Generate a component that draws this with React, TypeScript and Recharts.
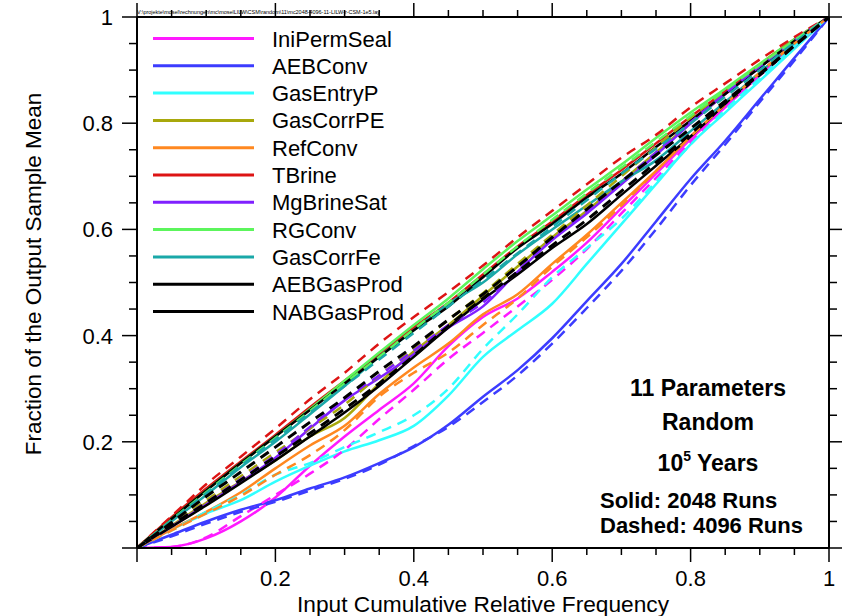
import React from 'react';
import { LineChart, Line, XAxis, YAxis } from 'recharts';

// ---- data ----
const xValues = [0, 0.05, 0.1, 0.15, 0.2, 0.25, 0.3, 0.35, 0.4, 0.45, 0.5, 0.55, 0.6, 0.65, 0.7, 0.75, 0.8, 0.85, 0.9, 0.95, 1];

const iniPermSealSolid = [0, 0.002, 0.018, 0.05, 0.095, 0.155, 0.21, 0.26, 0.31, 0.38, 0.435, 0.47, 0.52, 0.575, 0.64, 0.705, 0.77, 0.83, 0.89, 0.945, 1];
const iniPermSealDashed = [0, 0.002, 0.02, 0.06, 0.1, 0.14, 0.185, 0.243, 0.298, 0.356, 0.405, 0.455, 0.505, 0.563, 0.63, 0.697, 0.765, 0.83, 0.89, 0.945, 1];
const aebConvSolid = [0, 0.025, 0.05, 0.072, 0.09, 0.112, 0.133, 0.16, 0.19, 0.232, 0.285, 0.335, 0.395, 0.465, 0.535, 0.615, 0.695, 0.767, 0.845, 0.923, 1];
const aebConvDashed = [0, 0.022, 0.046, 0.068, 0.087, 0.108, 0.13, 0.157, 0.192, 0.228, 0.275, 0.325, 0.385, 0.452, 0.522, 0.6, 0.683, 0.76, 0.84, 0.918, 1];
const gasEntryPSolid = [0, 0.035, 0.065, 0.09, 0.125, 0.155, 0.182, 0.203, 0.23, 0.287, 0.36, 0.41, 0.46, 0.535, 0.61, 0.685, 0.76, 0.82, 0.88, 0.94, 1];
const gasEntryPDashed = [0, 0.033, 0.068, 0.1, 0.138, 0.16, 0.19, 0.218, 0.25, 0.3, 0.375, 0.44, 0.51, 0.565, 0.62, 0.69, 0.76, 0.825, 0.885, 0.945, 1];
const gasCorrPESolid = [0, 0.042, 0.085, 0.125, 0.165, 0.21, 0.245, 0.31, 0.37, 0.42, 0.475, 0.53, 0.585, 0.635, 0.69, 0.745, 0.8, 0.855, 0.905, 0.955, 1];
const gasCorrPEDashed = [0, 0.045, 0.09, 0.135, 0.18, 0.225, 0.27, 0.325, 0.375, 0.43, 0.48, 0.535, 0.59, 0.645, 0.7, 0.755, 0.81, 0.86, 0.91, 0.958, 1];
const refConvSolid = [0, 0.035, 0.068, 0.105, 0.15, 0.193, 0.23, 0.29, 0.34, 0.385, 0.44, 0.478, 0.535, 0.59, 0.65, 0.71, 0.775, 0.835, 0.895, 0.95, 1];
const refConvDashed = [0, 0.033, 0.065, 0.098, 0.138, 0.175, 0.222, 0.285, 0.33, 0.368, 0.42, 0.47, 0.53, 0.585, 0.645, 0.71, 0.775, 0.835, 0.895, 0.95, 1];
const tBrineSolid = [0, 0.058, 0.112, 0.163, 0.213, 0.265, 0.315, 0.365, 0.415, 0.462, 0.515, 0.568, 0.615, 0.665, 0.712, 0.762, 0.812, 0.86, 0.91, 0.958, 1];
const tBrineDashed = [0, 0.06, 0.12, 0.172, 0.225, 0.28, 0.33, 0.385, 0.435, 0.482, 0.532, 0.585, 0.635, 0.685, 0.735, 0.778, 0.83, 0.875, 0.92, 0.962, 1];
const mgBrineSatSolid = [0, 0.04, 0.082, 0.124, 0.17, 0.225, 0.278, 0.32, 0.365, 0.415, 0.455, 0.52, 0.58, 0.63, 0.685, 0.74, 0.8, 0.855, 0.905, 0.955, 1];
const mgBrineSatDashed = [0, 0.043, 0.086, 0.13, 0.175, 0.228, 0.28, 0.325, 0.372, 0.42, 0.462, 0.522, 0.582, 0.635, 0.69, 0.745, 0.802, 0.856, 0.907, 0.956, 1];
const rgConvSolid = [0, 0.055, 0.108, 0.16, 0.21, 0.262, 0.315, 0.368, 0.42, 0.47, 0.525, 0.578, 0.626, 0.675, 0.722, 0.772, 0.82, 0.865, 0.912, 0.958, 1];
const rgConvDashed = [0, 0.053, 0.105, 0.157, 0.207, 0.258, 0.31, 0.36, 0.412, 0.462, 0.515, 0.568, 0.618, 0.668, 0.716, 0.765, 0.814, 0.862, 0.91, 0.956, 1];
const gasCorrFeSolid = [0, 0.05, 0.1, 0.152, 0.2, 0.252, 0.305, 0.36, 0.41, 0.46, 0.5, 0.553, 0.6, 0.645, 0.69, 0.73, 0.785, 0.84, 0.895, 0.95, 1];
const gasCorrFeDashed = [0, 0.052, 0.103, 0.155, 0.205, 0.255, 0.305, 0.355, 0.405, 0.455, 0.505, 0.555, 0.605, 0.655, 0.705, 0.752, 0.8, 0.85, 0.9, 0.952, 1];
const aebGasProdSolid = [0, 0.055, 0.108, 0.16, 0.21, 0.26, 0.31, 0.36, 0.41, 0.455, 0.51, 0.565, 0.61, 0.66, 0.705, 0.755, 0.805, 0.855, 0.905, 0.955, 1];
const aebGasProdDashed = [0, 0.048, 0.097, 0.143, 0.19, 0.237, 0.283, 0.333, 0.38, 0.43, 0.478, 0.53, 0.585, 0.638, 0.69, 0.74, 0.79, 0.842, 0.893, 0.946, 1];
const nabGasProdSolid = [0, 0.04, 0.08, 0.122, 0.165, 0.21, 0.255, 0.305, 0.36, 0.415, 0.468, 0.515, 0.565, 0.61, 0.665, 0.72, 0.775, 0.835, 0.89, 0.945, 1];
const nabGasProdDashed = [0, 0.043, 0.085, 0.128, 0.172, 0.216, 0.262, 0.31, 0.362, 0.418, 0.47, 0.52, 0.57, 0.618, 0.672, 0.726, 0.78, 0.838, 0.892, 0.946, 1];

const seriesNames = ['IniPermSeal', 'AEBConv', 'GasEntryP', 'GasCorrPE', 'RefConv', 'TBrine', 'MgBrineSat', 'RGConv', 'GasCorrFe', 'AEBGasProd', 'NABGasProd'];
const seriesColors = ['#ff1aff', '#3c3cff', '#30ffff', '#a8a80c', '#ff8820', '#dd1414', '#8020ff', '#5cf55c', '#1aa8a8', '#000000', '#000000'];
const solidValues = [iniPermSealSolid, aebConvSolid, gasEntryPSolid, gasCorrPESolid, refConvSolid, tBrineSolid, mgBrineSatSolid, rgConvSolid, gasCorrFeSolid, aebGasProdSolid, nabGasProdSolid];
const dashedValues = [iniPermSealDashed, aebConvDashed, gasEntryPDashed, gasCorrPEDashed, refConvDashed, tBrineDashed, mgBrineSatDashed, rgConvDashed, gasCorrFeDashed, aebGasProdDashed, nabGasProdDashed];

const allTicks = [0, 0.05, 0.1, 0.15, 0.2, 0.25, 0.3, 0.35, 0.4, 0.45, 0.5, 0.55, 0.6, 0.65, 0.7, 0.75, 0.8, 0.85, 0.9, 0.95, 1];
const majorTicks = [0.2, 0.4, 0.6, 0.8, 1];
const majorTickLabels = ['0.2', '0.4', '0.6', '0.8', '1'];

const xTitle = 'Input Cumulative Relative Frequency';
const yTitle = 'Fraction of the Output Sample Mean';
const filePath = 'V:\\projekte\\mosel\\rechnungen\\mc\\moselLILW\\CSM\\random\\11\\mc2048-4096-11-LILW-r-CSM-1e5.lay';

const rows = xValues.map((x, i) => {
  const r: Record<string, number> = { x };
  seriesNames.forEach((n, k) => {
    r[n + '_s'] = solidValues[k][i];
    r[n + '_d'] = dashedValues[k][i];
  });
  return r;
});

const FONT = '"Liberation Sans", Arial, sans-serif';
const W = 842;
const H = 616;
const L = 137, R = 829, T = 17, B = 548;
const AX_B = 40, AX_T = 10, AX_L = 60, AX_R = 10;

const majorIndex = (v: number) => majorTicks.findIndex((m) => Math.abs(m - v) < 1e-6);
const isMajor = (v: number) => Math.abs(v * 5 - Math.round(v * 5)) < 1e-6;

const BottomTick = (p: any) => {
  const v = p.payload.value;
  const mj = isMajor(v);
  const idx = majorIndex(v);
  return (
    <g>
      <line x1={p.x} x2={p.x} y1={B} y2={B + (mj ? 14 : 7)} stroke="#000" strokeWidth={1.5} />
      {idx >= 0 && (
        <text x={p.x} y={B + 38} textAnchor="middle" fontSize={22} fontFamily={FONT} fill="#000">
          {majorTickLabels[idx]}
        </text>
      )}
    </g>
  );
};
const TopTick = (p: any) => {
  const v = p.payload.value;
  const mj = isMajor(v);
  return <line x1={p.x} x2={p.x} y1={T} y2={T - (mj ? 14 : 7)} stroke="#000" strokeWidth={1.5} />;
};
const LeftTick = (p: any) => {
  const v = p.payload.value;
  const mj = isMajor(v);
  const idx = majorIndex(v);
  return (
    <g>
      <line x1={L} x2={L - (mj ? 15 : 8)} y1={p.y} y2={p.y} stroke="#000" strokeWidth={1.5} />
      {idx >= 0 && (
        <text x={L - 24} y={p.y + 8} textAnchor="end" fontSize={22} fontFamily={FONT} fill="#000">
          {majorTickLabels[idx]}
        </text>
      )}
    </g>
  );
};
const RightTick = (p: any) => {
  const v = p.payload.value;
  const mj = isMajor(v);
  return <line x1={R} x2={R + (mj ? 15 : 8)} y1={p.y} y2={p.y} stroke="#000" strokeWidth={1.5} />;
};

const axisLine = { stroke: '#000', strokeWidth: 2 };

export default function App() {
  return (
    <div style={{ position: 'absolute', left: 0, top: 0, width: W, height: H, background: '#fff' }}>
      <LineChart width={W} height={H} data={rows}
        margin={{ top: T - AX_T, right: W - R - AX_R, bottom: H - B - AX_B, left: L - AX_L }}>
        <XAxis dataKey="x" type="number" domain={[0, 1]} ticks={allTicks} interval={0} height={AX_B}
          tickSize={0} tickMargin={0} tickLine={false} axisLine={axisLine} tick={<BottomTick />} allowDataOverflow />
        <XAxis xAxisId="top" orientation="top" dataKey="x" type="number" domain={[0, 1]} ticks={allTicks} interval={0} height={AX_T}
          tickSize={0} tickMargin={0} tickLine={false} axisLine={axisLine} tick={<TopTick />} allowDataOverflow />
        <YAxis type="number" domain={[0, 1]} ticks={allTicks} interval={0} width={AX_L}
          tickSize={0} tickMargin={0} tickLine={false} axisLine={axisLine} tick={<LeftTick />} allowDataOverflow />
        <YAxis yAxisId="right" orientation="right" type="number" domain={[0, 1]} ticks={allTicks} interval={0} width={AX_R}
          tickSize={0} tickMargin={0} tickLine={false} axisLine={axisLine} tick={<RightTick />} allowDataOverflow />
        {seriesNames.map((n, k) => (
          <Line key={n + '_s'} dataKey={n + '_s'} type="monotone" stroke={seriesColors[k]} strokeWidth={2.5}
            dot={false} activeDot={false} isAnimationActive={false} />
        ))}
        {seriesNames.map((n, k) => (
          <Line key={n + '_d'} dataKey={n + '_d'} type="monotone" stroke={seriesColors[k]} strokeWidth={k >= 9 ? 3 : 2.5}
            strokeDasharray="10 7" dot={false} activeDot={false} isAnimationActive={false} />
        ))}
      </LineChart>
      <svg width={W} height={H} style={{ position: 'absolute', left: 0, top: 0, pointerEvents: 'none' }}>
        <text x={L} y={14} fontSize={5.5} fontFamily={FONT} fill="#000" textLength={243}>{filePath}</text>
        {seriesNames.map((n, k) => {
          const y = 38.5 + k * 27.3;
          return (
            <g key={n}>
              <line x1={153} x2={254} y1={y} y2={y} stroke={seriesColors[k]} strokeWidth={3} />
              <text x={272} y={y + 8} fontSize={22} fontFamily={FONT} fill="#000">{n}</text>
            </g>
          );
        })}
        <text x={(L + R) / 2} y={612} textAnchor="middle" fontSize={22.7} fontFamily={FONT} fill="#000">{xTitle}</text>
        <text transform="translate(41, 274) rotate(-90)" textAnchor="middle" fontSize={22.5} fontFamily={FONT} fill="#000">{yTitle}</text>
        <g fontFamily={FONT} fontWeight="bold" fontSize={23} fill="#000">
          <text x={708} y={396} textAnchor="middle">11 Parameters</text>
          <text x={708} y={430} textAnchor="middle">Random</text>
          <text x={708} y={471} textAnchor="middle">10<tspan fontSize={14} dy={-10}>5</tspan><tspan dy={10}> Years</tspan></text>
          <text x={600} y={508} fontSize={22}>Solid: 2048 Runs</text>
          <text x={600} y={533} fontSize={22}>Dashed: 4096 Runs</text>
        </g>
      </svg>
    </div>
  );
}
